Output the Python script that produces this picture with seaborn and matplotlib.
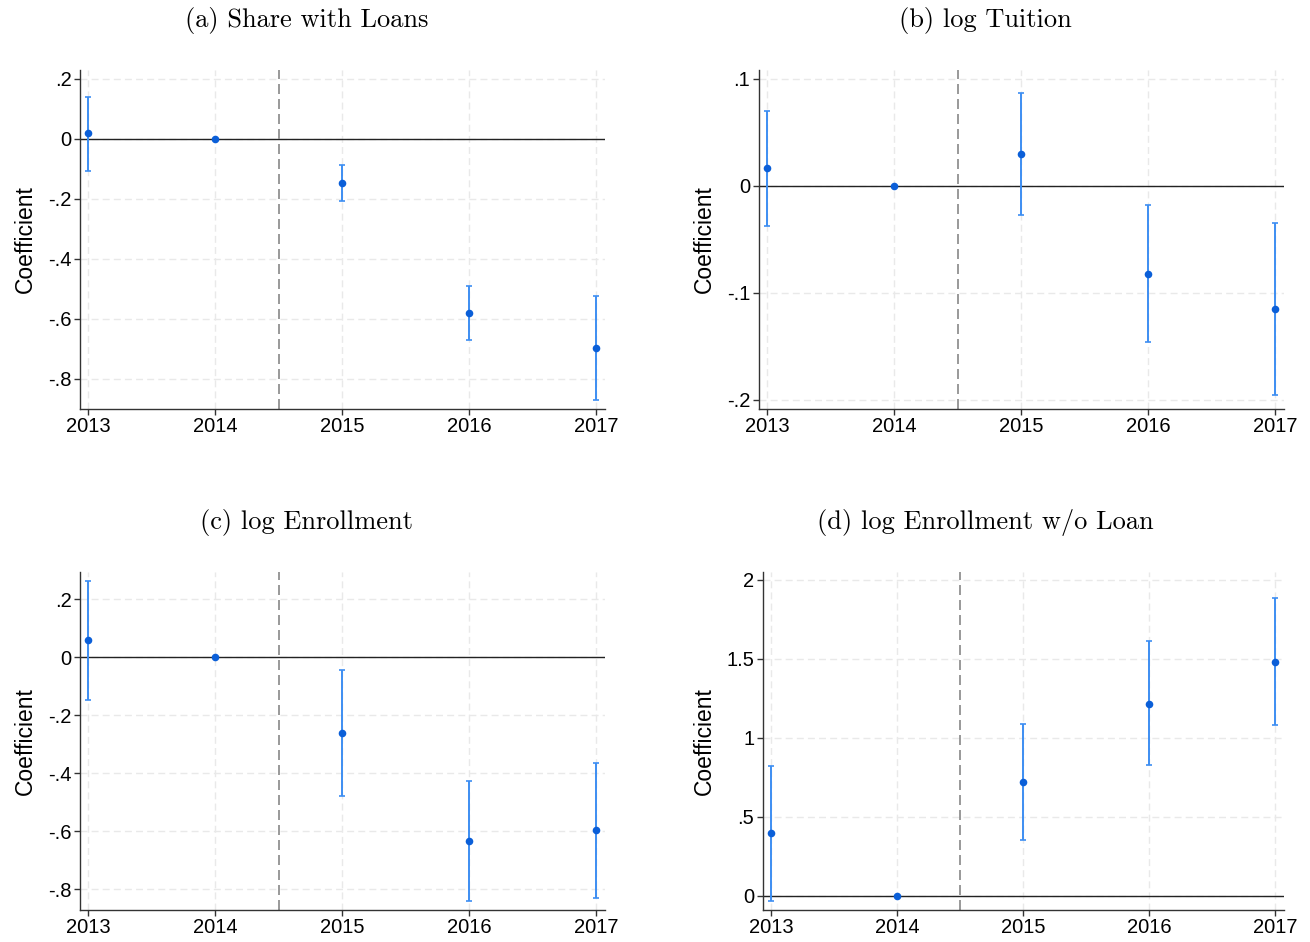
import numpy as np
import pandas as pd
import matplotlib
matplotlib.use("Agg")
import matplotlib.pyplot as plt
import seaborn as sns

# Event-study coefficients (base year 2014) with 95% confidence bounds
years = [2013, 2014, 2015, 2016, 2017]

titles = ["(a) Share with Loans", "(b) log Tuition",
          "(c) log Enrollment", "(d) log Enrollment w/o Loan"]

coef_a = [0.019, 0.0, -0.147, -0.580, -0.698]
lo_a = [-0.106, 0.0, -0.208, -0.670, -0.870]
hi_a = [0.141, 0.0, -0.086, -0.489, -0.524]

coef_b = [0.0162, 0.0, 0.0296, -0.0822, -0.1153]
lo_b = [-0.0377, 0.0, -0.0271, -0.1464, -0.1953]
hi_b = [0.0698, 0.0, 0.0863, -0.0180, -0.0352]

coef_c = [0.0586, 0.0, -0.262, -0.633, -0.596]
lo_c = [-0.146, 0.0, -0.479, -0.841, -0.828]
hi_c = [0.264, 0.0, -0.044, -0.425, -0.363]

coef_d = [0.395, 0.0, 0.718, 1.216, 1.479]
lo_d = [-0.034, 0.0, 0.351, 0.826, 1.078]
hi_d = [0.823, 0.0, 1.085, 1.611, 1.882]

yticks_a = [0.2, 0.0, -0.2, -0.4, -0.6, -0.8]
ylabels_a = [".2", "0", "-.2", "-.4", "-.6", "-.8"]
yticks_b = [0.1, 0.0, -0.1, -0.2]
ylabels_b = [".1", "0", "-.1", "-.2"]
yticks_c = [0.2, 0.0, -0.2, -0.4, -0.6, -0.8]
ylabels_c = [".2", "0", "-.2", "-.4", "-.6", "-.8"]
yticks_d = [2.0, 1.5, 1.0, 0.5, 0.0]
ylabels_d = ["2", "1.5", "1", ".5", "0"]

panels = [
    (coef_a, lo_a, hi_a, yticks_a, ylabels_a, (-0.90, 0.23)),
    (coef_b, lo_b, hi_b, yticks_b, ylabels_b, (-0.2087, 0.108)),
    (coef_c, lo_c, hi_c, yticks_c, ylabels_c, (-0.871, 0.295)),
    (coef_d, lo_d, hi_d, yticks_d, ylabels_d, (-0.09, 2.05)),
]

sns.set_theme(style="white")
plt.rcParams["font.family"] = ["Liberation Sans", "DejaVu Sans"]
plt.rcParams["text.color"] = "black"
plt.rcParams["axes.labelcolor"] = "black"
plt.rcParams["xtick.color"] = "black"
plt.rcParams["ytick.color"] = "black"

W, H = 1310, 942
fig = plt.figure(figsize=(W / 100, H / 100), dpi=100)

# axes boxes in pixels: left, top, right, bottom
boxes = [
    (80, 70, 605, 409),
    (758.7, 70, 1284, 409),
    (80, 571.7, 605, 910),
    (762.7, 571.7, 1284, 910),
]
title_pos = [(307, 20), (985, 20), (307, 522), (985, 522)]

point_color = "#0b5fd8"
bar_color = "#3d8ef2"
grid_color = "#e9e9e9"
spine_color = "#333333"

for i, (coef, lo, hi, yt, yl, ylim) in enumerate(panels):
    l, t, r, b = boxes[i]
    ax = fig.add_axes([l / W, 1 - b / H, (r - l) / W, (b - t) / H])
    df = pd.DataFrame({"year": years, "coef": coef, "lo": lo, "hi": hi})

    ax.set_xlim(2012.935, 2017.07)
    ax.set_ylim(*ylim)

    # background grid
    for x in years:
        ax.axvline(x, color=grid_color, lw=1.0, ls=(0, (5, 3)), zorder=0)
    for y in yt:
        ax.axhline(y, color=grid_color, lw=1.0, ls=(0, (5, 3)), zorder=0)

    ax.axhline(0, color="#222222", lw=1.0, zorder=1)
    ax.axvline(2014.5, color="#888888", lw=1.2, ls=(0, (6, 3)), zorder=1)

    ci = df[df["hi"] > df["lo"]]
    ax.errorbar(ci["year"], ci["coef"],
                yerr=[ci["coef"] - ci["lo"], ci["hi"] - ci["coef"]],
                fmt="none", ecolor=bar_color, elinewidth=1.4,
                capsize=2.5, capthick=1.2, zorder=2)
    sns.scatterplot(data=df, x="year", y="coef", ax=ax, color=point_color,
                    s=30, edgecolor=point_color, linewidth=0, zorder=3,
                    legend=False)

    ax.set_xticks(years)
    ax.set_xticklabels([str(y) for y in years], fontsize=14.5)
    ax.set_yticks(yt)
    ax.set_yticklabels(yl, fontsize=14.5)
    ax.tick_params(axis="both", which="major", direction="out", length=4,
                   width=1, color=spine_color, labelcolor="black", pad=2,
                   bottom=True, left=True)
    ax.set_xlabel("")
    ax.set_ylabel("Coefficient", fontsize=16.5, labelpad=8, color="black")
    for side in ["top", "right"]:
        ax.spines[side].set_visible(False)
    for side in ["left", "bottom"]:
        ax.spines[side].set_color(spine_color)
        ax.spines[side].set_linewidth(1.0)
    ax.set_facecolor("white")

    tx, ty = title_pos[i]
    fig.text(tx / W, 1 - ty / H, titles[i], ha="center", va="center",
             fontsize=19, color="black", family=["cmr10", "DejaVu Serif"])

fig.savefig("out.png", dpi=100, facecolor="white")
